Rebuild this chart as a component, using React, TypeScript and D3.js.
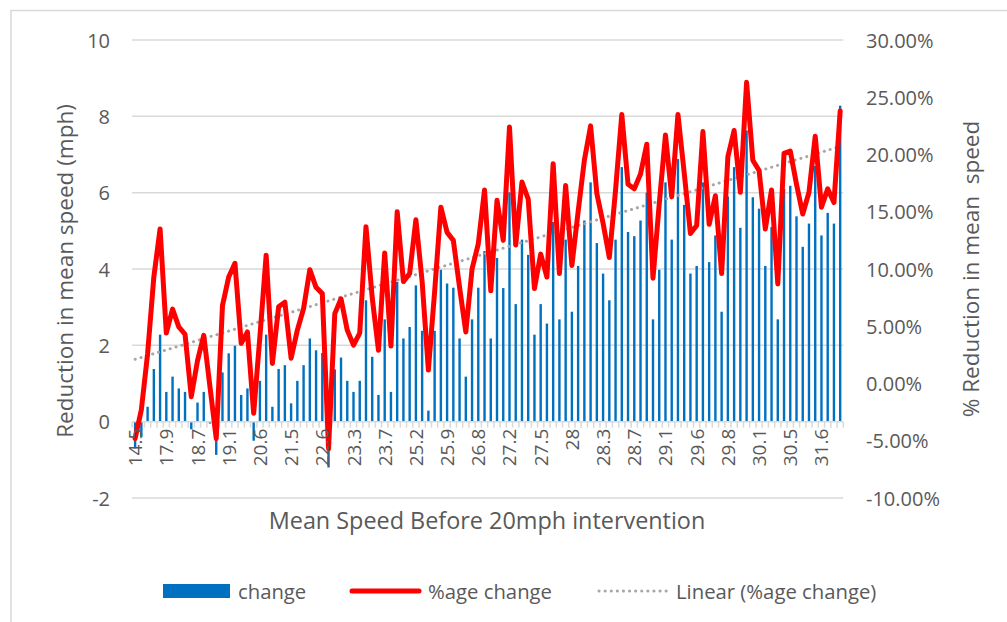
import React from 'react';
import * as d3 from 'd3';

// change in mean speed (mph), one per site, ordered by mean speed before
const change = [
  -0.7, -0.4, 0.39, 1.38, 2.28, 0.78, 1.18, 0.87, 0.78, -0.2,
  0.5, 0.78, -0.05, -0.87, 1.29, 1.79, 1.99, 0.7, 0.87, -0.5,
  1.07, 2.28, 0.39, 1.38, 1.48, 0.48, 1.07, 1.48, 2.18, 1.87,
  1.8, -1.2, 1.37, 1.68, 1.07, 0.78, 1.07, 3.18, 1.7, 0.7,
  2.68, 0.78, 3.66, 2.18, 2.48, 3.57, 2.38, 0.29, 2.38, 3.98,
  3.62, 3.51, 2.18, 1.18, 2.68, 3.51, 4.47, 2.18, 4.29, 3.5,
  6.01, 3.08, 4.77, 4.37, 2.28, 3.08, 2.57, 5.23, 2.68, 4.77,
  2.88, 4.08, 5.27, 6.27, 4.68, 3.88, 3.18, 4.77, 6.67, 4.97,
  4.86, 5.27, 6.0, 2.68, 3.98, 6.27, 4.77, 6.88, 5.68, 3.88,
  4.08, 6.27, 4.18, 4.88, 2.88, 5.9, 6.67, 5.08, 7.63, 5.88,
  5.58, 4.08, 5.1, 2.68, 6.1, 6.18, 5.38, 4.58, 5.19, 6.7,
  4.88, 5.47, 5.19, 8.28,
];

// % reduction in mean speed
const pctChange = [
  -4.79, -2.3, 2.6, 9.3, 13.5, 4.4, 6.5, 4.95, 4.3, -1.15,
  2.0, 4.2, -0.3, -4.8, 6.8, 9.3, 10.5, 3.5, 4.5, -2.6,
  4.1, 11.2, 1.75, 6.7, 7.1, 2.2, 4.66, 6.55, 9.94, 8.4,
  7.85, -5.7, 6.1, 7.4, 4.66, 3.35, 4.4, 13.7, 7.5, 2.9,
  11.4, 3.27, 15.0, 8.9, 9.6, 14.3, 8.9, 1.17, 8.0, 15.4,
  13.2, 12.5, 8.4, 4.5, 10.0, 12.2, 16.9, 8.1, 16.0, 12.5,
  22.4, 12.1, 17.6, 16.1, 8.3, 11.3, 9.3, 19.2, 9.6, 17.3,
  10.3, 15.0, 19.5, 22.5, 16.6, 14.0, 11.0, 16.9, 23.5, 17.4,
  17.0, 18.3, 20.9, 9.2, 15.7, 21.7, 16.3, 23.5, 18.4, 13.1,
  13.8, 22.0, 13.9, 16.4, 9.6, 19.8, 22.1, 16.7, 26.3, 19.5,
  18.6, 13.5, 16.9, 8.7, 20.1, 20.3, 17.4, 14.8, 16.7, 21.6,
  15.4, 17.0, 15.8, 23.8,
];

// category labels shown on the axis (every 5th site)
const tickLabels = [
  '14.5', '17.9', '18.7', '19.1', '20.6', '21.5', '22.6', '23.3', '23.7', '25.2',
  '25.9', '26.8', '27.2', '27.5', '28', '28.3', '28.7', '29.1', '29.6', '29.8',
  '30.1', '30.5', '31.6',
];
const TICK_EVERY = 5;

const leftTicks = [-2, 0, 2, 4, 6, 8, 10];
const rightTicks = [-0.1, -0.05, 0, 0.05, 0.1, 0.15, 0.2, 0.25, 0.3];

const W = 1007, H = 622;
const FONT = '"Open Sans", Lato, sans-serif';
const GREY_TEXT = '#595959';
const GRID = '#d9d9d9';

export default function App() {
  const idx = d3.range(change.length);
  const x = d3.scaleBand<number>().domain(idx).range([132, 843.3]).padding(0);
  const yL = d3.scaleLinear().domain([-2, 10]).range([498, 40]);
  const yR = d3.scaleLinear().domain([-0.1, 0.3]).range([498, 40]);
  const cx = (i: number) => (x(i) as number) + x.bandwidth() / 2;

  const line = d3.line<number>()
    .x((d, i) => cx(i))
    .y(d => yR(d / 100));

  // linear trendline (least squares on category index)
  const mx = d3.mean(idx) as number;
  const my = d3.mean(pctChange) as number;
  const slope = d3.sum(idx, i => (i - mx) * (pctChange[i] - my)) / d3.sum(idx, i => (i - mx) ** 2);
  const icpt = my - slope * mx;
  const trend = [0, idx.length - 1];

  const barW = 2.4;

  return (
    <svg width={W} height={H} style={{ position: 'fixed', left: 0, top: 0, background: '#fff' }}
      fontFamily={FONT}>
      <rect x={11} y={10.5} width={1100} height={700} fill="#fff" stroke={GRID} strokeWidth={1.5} />

      {/* gridlines */}
      {leftTicks.filter(t => t !== 0).map(t => (
        <line key={t} x1={132} x2={843.3} y1={yL(t)} y2={yL(t)} stroke={GRID} strokeWidth={1.5} />
      ))}

      {/* bars */}
      {change.map((v, i) => (
        <rect key={i} x={cx(i) - barW / 2} width={barW}
          y={Math.min(yL(v), yL(0))} height={Math.abs(yL(v) - yL(0))} fill="#0070C0" />
      ))}

      {/* category axis at 0 with tick marks */}
      <line x1={132} x2={843.3} y1={yL(0)} y2={yL(0)} stroke={GRID} strokeWidth={1.5} />
      {d3.range(change.length + 1).map(i => {
        const xx = 132 + i * x.bandwidth();
        return <line key={'t' + i} x1={xx} x2={xx} y1={yL(0)} y2={yL(0) + 6} stroke={GRID} strokeWidth={1.5} />;
      })}

      {/* trendline */}
      <path d={d3.line<number>().x(i => cx(i)).y(i => yR((icpt + slope * i) / 100))(trend) as string}
        fill="none" stroke="#a6a6a6" strokeWidth={3} strokeDasharray="0.1 6" strokeLinecap="round" />

      {/* %age change line */}
      <path d={line(pctChange) as string} fill="none" stroke="#ff0000" strokeWidth={5}
        strokeLinejoin="round" strokeLinecap="round" />

      {/* x tick labels */}
      {idx.filter(i => i % TICK_EVERY === 0).map(i => (
        <text key={'xl' + i} transform={`translate(${cx(i)},${yL(0) + 7}) rotate(-90)`}
          textAnchor="end" dominantBaseline="central" fontSize={19} fill={GREY_TEXT}>
          {tickLabels[i / TICK_EVERY]}
        </text>
      ))}

      {/* left axis labels */}
      {leftTicks.map(t => (
        <text key={'l' + t} x={110} y={yL(t)} textAnchor="end" dominantBaseline="central"
          fontSize={20} fill={GREY_TEXT}>{t}</text>
      ))}

      {/* right axis labels */}
      {rightTicks.map(t => (
        <text key={'r' + t} x={866} y={yR(t)} textAnchor="start" dominantBaseline="central"
          fontSize={20} fill={GREY_TEXT}>{d3.format('.2%')(t).replace('−', '-')}</text>
      ))}

      {/* axis titles */}
      <text transform="translate(64,271) rotate(-90)" textAnchor="middle" dominantBaseline="central"
        fontSize={22.5} fill={GREY_TEXT}>Reduction in mean speed (mph)</text>
      <text transform="translate(970,269) rotate(-90)" textAnchor="middle" dominantBaseline="central"
        fontSize={22.5} fill={GREY_TEXT} style={{ whiteSpace: 'pre' }}>% Reduction in mean  speed</text>
      <text x={487} y={520} textAnchor="middle" dominantBaseline="central"
        fontSize={23.4} fill={GREY_TEXT}>Mean Speed Before 20mph intervention</text>

      {/* legend */}
      <rect x={163} y={584} width={67} height={14} fill="#0070C0" />
      <text x={238} y={591} dominantBaseline="central" fontSize={20.3} fill={GREY_TEXT}>change</text>
      <line x1={352} x2={419} y1={591} y2={591} stroke="#ff0000" strokeWidth={5} strokeLinecap="round" />
      <text x={428} y={591} dominantBaseline="central" fontSize={20.3} fill={GREY_TEXT}>%age change</text>
      <line x1={599} x2={668} y1={591} y2={591} stroke="#a6a6a6" strokeWidth={3}
        strokeDasharray="0.1 6" strokeLinecap="round" />
      <text x={676} y={591} dominantBaseline="central" fontSize={20.3} fill={GREY_TEXT}>Linear (%age change)</text>
    </svg>
  );
}
